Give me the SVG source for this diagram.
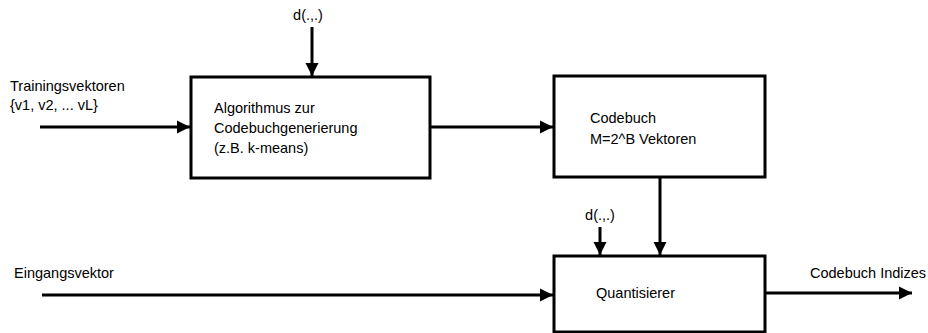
<svg xmlns="http://www.w3.org/2000/svg" width="928" height="333" viewBox="0 0 928 333">
<style>
.box{fill:#fff;stroke:#000;stroke-width:3}
.ln{fill:none;stroke:#000;stroke-width:3;marker-end:url(#ah)}
text{font-family:"Liberation Sans",Arial,sans-serif;font-size:14.5px;fill:#000}
</style>
<defs>
<marker id="ah" markerWidth="4.5" markerHeight="4.5" refX="4.5" refY="2.25" orient="auto" markerUnits="strokeWidth"><path d="M0,0 L4.5,2.25 L0,4.5 Z" fill="#000"/></marker>
</defs>
<rect width="928" height="333" fill="#fff"/>
<g id="connectors">
<line class="ln" x1="40" y1="127" x2="190" y2="127"/>
<line class="ln" x1="312" y1="27" x2="312" y2="76"/>
<line class="ln" x1="430" y1="127" x2="553" y2="127"/>
<line class="ln" x1="660" y1="177" x2="660" y2="255"/>
<line class="ln" x1="600" y1="227" x2="600" y2="255"/>
<line class="ln" x1="42" y1="295" x2="553" y2="295"/>
<line class="ln" x1="765" y1="293" x2="912" y2="293"/>
</g>
<g id="n-algo">
<rect class="box" x="191" y="77" width="239" height="101"/>
<text x="214" y="113">Algorithmus zur</text>
<text x="214" y="133">Codebuchgenerierung</text>
<text x="214" y="153">(z.B. k-means)</text>
</g>
<g id="n-codebuch">
<rect class="box" x="554" y="76" width="211" height="101"/>
<text x="590" y="123">Codebuch</text>
<text x="590" y="144">M=2^B Vektoren</text>
</g>
<g id="n-quant">
<rect class="box" x="554" y="256" width="211" height="76"/>
<text x="596" y="298">Quantisierer</text>
</g>
<g id="labels">
<text x="10" y="91">Trainingsvektoren</text>
<text x="10" y="110">{v1, v2, ... vL}</text>
<text x="308" y="20" text-anchor="middle">d(.,.)</text>
<text x="600" y="220" text-anchor="middle">d(.,.)</text>
<text x="14" y="278">Eingangsvektor</text>
<text x="810" y="278">Codebuch Indizes</text>
</g>
</svg>
